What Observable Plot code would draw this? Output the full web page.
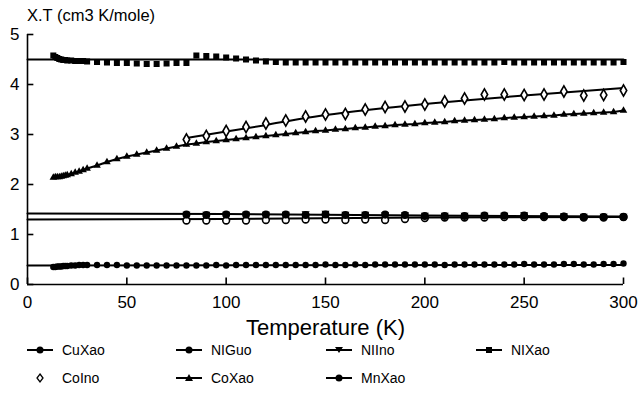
<!DOCTYPE html>
<html>
<head>
<meta charset="utf-8">
<script src="https://cdn.jsdelivr.net/npm/d3@7"></script>
<script src="https://cdn.jsdelivr.net/npm/@observablehq/plot@0.6"></script>
<style>
  html, body { margin: 0; padding: 0; background: #fff; }
  #wrap { position: relative; width: 641px; height: 397px; font-family: "Liberation Sans", Arial, sans-serif; color: #000; }
  #ytitle { position: absolute; left: 27px; top: 6px; font-size: 16.5px; }
  #xtitle { position: absolute; left: 0; width: 651px; top: 315px; text-align: center; font-size: 22px; }
  #legend { position: absolute; left: 0; top: 340px; width: 641px; height: 57px; font-size: 14px; }
  .item { position: absolute; display: flex; align-items: center; height: 16px; }
  .item svg { margin-right: 9px; }
</style>
</head>
<body>
<div id="wrap">
  <div id="chart"></div>
  <div id="ytitle">X.T (cm3 K/mole)</div>
  <div id="xtitle">Temperature (K)</div>
  <div id="legend"></div>
</div>
<script>
// ---- axis ticks ----
const xTicks = [0, 50, 100, 150, 200, 250, 300];
const yTicks = [0, 1, 2, 3, 4, 5];

// ---- temperatures (K) ----
const tempA = [13,14,15,16,17,18,19,20,22,24,26,28,30,
  35,40,45,50,55,60,65,70,75,80,
  85,90,95,100,105,110,115,120,125,130,
  135,140,145,150,155,160,165,170,175,180,
  185,190,195,200,205,210,215,220,225,230,
  235,240,245,250,255,260,265,270,275,280,
  285,290,295,300];
const tempB = [80,90,100,110,120,130,140,150,160,170,180,190,200,210,220,230,240,250,260,270,280,290,300];

// ---- series values (cm3 K/mole) ----
const cuXao = [0.35,0.35,0.36,0.36,0.36,0.37,0.37,0.37,0.38,0.38,0.39,0.39,0.39,
  0.39,0.39,0.39,0.38,0.38,0.38,0.38,0.38,0.38,0.38,
  0.38,0.38,0.39,0.38,0.39,0.39,0.39,0.39,0.39,0.39,
  0.39,0.39,0.39,0.40,0.39,0.39,0.40,0.39,0.40,0.40,
  0.40,0.40,0.40,0.40,0.40,0.39,0.40,0.40,0.40,0.40,
  0.40,0.40,0.40,0.41,0.40,0.40,0.40,0.41,0.41,0.40,
  0.40,0.41,0.41,0.42];
const coXao = [2.14,2.15,2.15,2.15,2.16,2.17,2.18,2.19,2.21,2.24,2.26,2.29,2.32,
  2.38,2.45,2.51,2.56,2.60,2.64,2.68,2.72,2.76,2.80,
  2.82,2.85,2.87,2.89,2.91,2.93,2.95,2.97,2.99,3.01,
  3.03,3.05,3.07,3.08,3.10,3.11,3.13,3.14,3.16,3.17,
  3.19,3.20,3.21,3.23,3.24,3.25,3.27,3.28,3.29,3.30,
  3.31,3.33,3.34,3.35,3.36,3.37,3.38,3.40,3.41,3.42,
  3.43,3.44,3.45,3.48];
const mnXao = [4.58,4.55,4.53,4.51,4.50,4.49,4.49,4.48,4.48,4.47,4.47,4.47,4.46,
  4.45,4.44,4.43,4.43,4.42,4.41,4.41,4.42,4.43,4.43,
  4.58,4.57,4.56,4.54,4.52,4.50,4.48,4.46,4.45,4.44,
  4.44,4.44,4.44,4.44,4.44,4.44,4.44,4.44,4.44,4.44,
  4.44,4.44,4.44,4.44,4.44,4.44,4.44,4.44,4.44,4.44,
  4.44,4.45,4.44,4.44,4.44,4.44,4.44,4.44,4.44,4.44,
  4.44,4.44,4.44,4.45];
const coIno = [2.90,2.97,3.07,3.15,3.22,3.28,3.36,3.40,3.41,3.50,3.55,3.56,3.60,3.66,3.72,3.80,3.80,3.79,3.80,3.86,3.78,3.79,3.88];
const niGuo = [1.40,1.39,1.40,1.40,1.40,1.40,1.39,1.40,1.39,1.39,1.40,1.39,1.37,1.37,1.37,1.38,1.38,1.38,1.37,1.36,1.35,1.35,1.35];
const niXao = [1.28,1.28,1.28,1.28,1.29,1.29,1.30,1.30,1.29,1.30,1.29,1.31,1.33,1.34,1.34,1.34,1.35,1.35,1.35,1.35,1.34,1.34,1.35];
const niIno = [1.41,1.41,1.41,1.41,1.41,1.41,1.42,1.43,1.41,1.41,1.40,1.40,1.39,1.39,1.39,1.39,1.39,1.40,1.38,1.38,1.37,1.37,1.37];

// ---- fitted curves ----
const fitT_mn = [0, 300];      const fitV_mn = [4.50, 4.50];
const fitT_cu = [0, 300];      const fitV_cu = [0.38, 0.39];
const fitT_niU = [0, 100, 200, 300]; const fitV_niU = [1.42, 1.41, 1.38, 1.36];
const fitT_niL = [0, 100, 200, 300]; const fitV_niL = [1.30, 1.31, 1.34, 1.35];
const fitT_co = [80, 100, 120, 140, 160, 180, 200, 220, 250, 300];
const fitV_co = [2.93, 3.06, 3.19, 3.33, 3.44, 3.53, 3.61, 3.68, 3.78, 3.93];

const rows = (T, V) => T.map((t, i) => ({t, v: V[i]}));

const W = 641, H = 340, mL = 27, mR = 18, mT = 34, mB = 56;

const chart = Plot.plot({
  width: W,
  height: H,
  marginLeft: mL,
  marginRight: mR,
  marginTop: mT,
  marginBottom: mB,
  style: {fontFamily: "Liberation Sans, Arial, sans-serif", fontSize: "17px", color: "#000", background: "#fff"},
  x: {domain: [0, 300], label: null},
  y: {domain: [0, 5], label: null},
  marks: [
    // tick labels
    Plot.axisX(xTicks, {tickSize: 0, tickPadding: 11, fontSize: 17, tickFormat: "d"}),
    Plot.axisY(yTicks, {tickSize: 0, tickPadding: 8, fontSize: 17, tickFormat: "d"}),
    // inward tick marks (short rules rising from the x axis, and reaching right from the y axis)
    Plot.ruleX(xTicks, {x: d => d, y1: 0, y2: 0.13, stroke: "#000", strokeWidth: 1.6}),
    Plot.ruleY(yTicks, {y: d => d, x1: 0, x2: 3.2, stroke: "#000", strokeWidth: 1.6}),
    Plot.ruleY([0], {stroke: "#000", strokeWidth: 1.6}),
    Plot.ruleX([0], {stroke: "#000", strokeWidth: 1.6}),
    // fitted lines
    Plot.line(rows(fitT_mn, fitV_mn), {x: "t", y: "v", stroke: "#000", strokeWidth: 2}),
    Plot.line(rows(fitT_cu, fitV_cu), {x: "t", y: "v", stroke: "#000", strokeWidth: 2}),
    Plot.line(rows(fitT_niU, fitV_niU), {x: "t", y: "v", stroke: "#000", strokeWidth: 2}),
    Plot.line(rows(fitT_niL, fitV_niL), {x: "t", y: "v", stroke: "#000", strokeWidth: 2}),
    Plot.line(rows(fitT_co, fitV_co), {x: "t", y: "v", stroke: "#000", strokeWidth: 2, curve: "natural"}),
    Plot.line(rows(tempA, coXao), {x: "t", y: "v", stroke: "#000", strokeWidth: 2}),
    // markers
    Plot.dot(rows(tempA, cuXao), {x: "t", y: "v", symbol: "circle", r: 3.2, fill: "#000", stroke: "none"}),
    Plot.dot(rows(tempA, mnXao), {x: "t", y: "v", symbol: "square", r: 3.4, fill: "#000", stroke: "none"}),
    Plot.dot(rows(tempA, coXao), {x: "t", y: "v", symbol: "triangle2", r: 3.6, fill: "#000", stroke: "none"}),
    Plot.dot(rows(tempB, coIno), {x: "t", y: "v", symbol: "diamond", r: 3.4, fill: "#fff", stroke: "#000", strokeWidth: 1.6}),
    Plot.dot(rows(tempB, niXao), {x: "t", y: "v", symbol: "circle", r: 3.4, fill: "#fff", stroke: "#000", strokeWidth: 1.6}),
    Plot.dot(rows(tempB, niIno), {x: "t", y: "v", symbol: "triangle2", r: 3.8, rotate: 180, fill: "#000", stroke: "none"}),
    Plot.dot(rows(tempB, niGuo), {x: "t", y: "v", symbol: "circle", r: 4, fill: "#000", stroke: "none"})
  ]
});
document.getElementById("chart").appendChild(chart);

// ---- legend ----
const legendItems = [
  {name: "CuXao", sym: "circle", fill: "#000", line: true, col: 0, row: 0},
  {name: "NIGuo", sym: "circle", fill: "#000", line: true, col: 1, row: 0},
  {name: "NIIno", sym: "down", fill: "#000", line: true, col: 2, row: 0},
  {name: "NIXao", sym: "square", fill: "#000", line: true, col: 3, row: 0},
  {name: "CoIno", sym: "diamond", fill: "#fff", line: false, col: 0, row: 1},
  {name: "CoXao", sym: "triangle", fill: "#000", line: true, col: 1, row: 1},
  {name: "MnXao", sym: "circle", fill: "#000", line: true, col: 2, row: 1}
];
const colX = [27, 176, 326, 476];
const rowY = [2, 30];
const legend = document.getElementById("legend");
for (const it of legendItems) {
  const div = document.createElement("div");
  div.className = "item";
  div.style.left = colX[it.col] + "px";
  div.style.top = rowY[it.row] + "px";
  let shape;
  if (it.sym === "circle") shape = `<circle cx="13" cy="8" r="3.5" fill="${it.fill}"/>`;
  else if (it.sym === "square") shape = `<rect x="10" y="5" width="6" height="6" fill="${it.fill}"/>`;
  else if (it.sym === "down") shape = `<path d="M9,5 L17,5 L13,11 Z" fill="${it.fill}"/>`;
  else if (it.sym === "triangle") shape = `<path d="M9,11 L17,11 L13,4 Z" fill="${it.fill}"/>`;
  else shape = `<path d="M13,4 L16,8 L13,12 L10,8 Z" fill="#fff" stroke="#000" stroke-width="1.3"/>`;
  const line = it.line ? `<line x1="0" x2="26" y1="8" y2="8" stroke="#000" stroke-width="2"/>` : "";
  div.innerHTML = `<svg width="26" height="16">${line}${shape}</svg><span>${it.name}</span>`;
  legend.appendChild(div);
}
</script>
</body>
</html>
